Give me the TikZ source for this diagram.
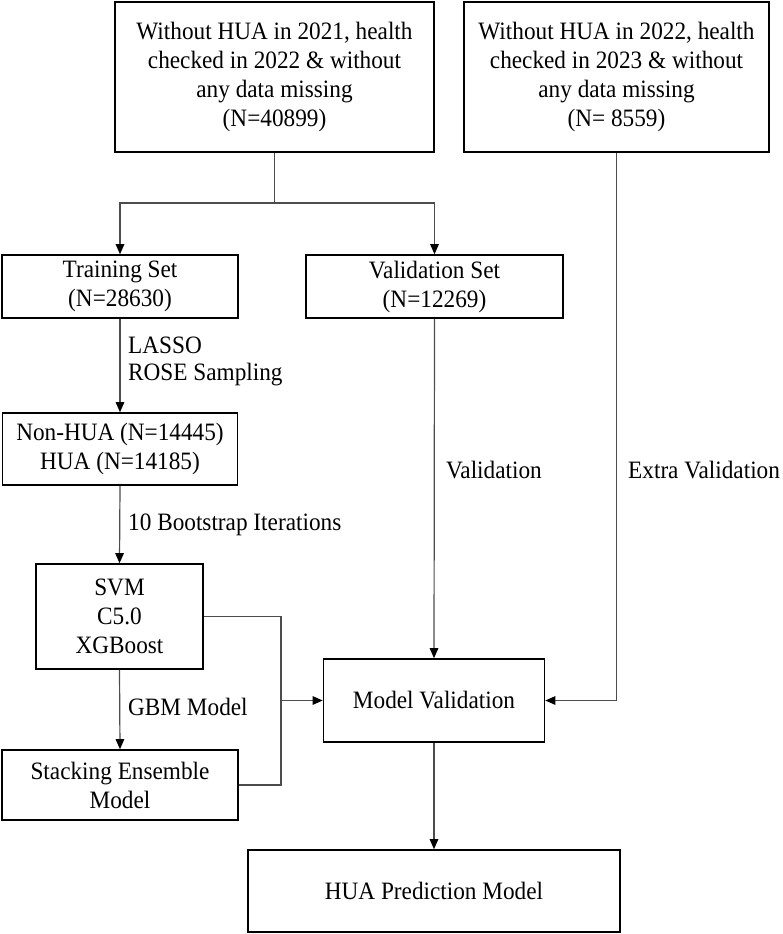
\documentclass[tikz,border=0pt]{standalone}
\usepackage{fontspec}
\setmainfont{Liberation Serif}[FakeStretch=0.93]
\usetikzlibrary{arrows.meta}
\begin{document}
\begin{tikzpicture}[x=1pt,y=-1pt,
  box/.style={draw=black,line width=1.6pt,inner sep=0pt,align=center,font=\fontsize{25}{29}\selectfont},
  conn/.style={draw=black!70,line width=1.2pt},
  arr/.style={conn,-{Triangle[length=10pt,width=8.5pt,color=black]}},
  lbl/.style={anchor=west,inner sep=0pt,align=left,font=\fontsize{25}{27.5}\selectfont}]
\useasboundingbox (0,0) rectangle (782,934);
\node[box,minimum width=319pt,minimum height=150pt] (b1) at (274.5,77) {\raisebox{-3pt}{\begin{tabular}{@{}c@{}}Without HUA in 2021, health\\checked in 2022 \& without\\any data missing\\(N=40899)\end{tabular}}};
\node[box,minimum width=305pt,minimum height=150pt] (b2) at (616.5,77) {\raisebox{-3pt}{\begin{tabular}{@{}c@{}}Without HUA in 2022, health\\checked in 2023 \& without\\any data missing\\(N= 8559)\end{tabular}}};
\node[box,minimum width=236pt,minimum height=63pt] (train) at (120,286.5) {Training Set\\(N=28630)};
\node[box,minimum width=257pt,minimum height=63pt] (val) at (434.5,286.5) {Validation Set\\(N=12269)};
\node[box,minimum width=235pt,minimum height=72pt] (nonhua) at (120,449) {Non-HUA (N=14445)\\HUA (N=14185)};
\node[box,minimum width=167pt,minimum height=105pt] (svm) at (119.5,616.5) {SVM\\C5.0\\XGBoost};
\node[box,minimum width=236pt,minimum height=70pt] (stack) at (120,785) {Stacking Ensemble\\Model};
\node[box,minimum width=221pt,minimum height=83pt] (mv) at (434,700.5) {Model Validation};
\node[box,minimum width=372pt,minimum height=82pt] (hua) at (434,891) {HUA Prediction Model};

\coordinate (j1) at (274.5,203);
\coordinate (m1) at (281,700.5);

\draw[conn] (b1.south) -- (j1);
\draw[arr] (j1) -| (train.north);
\draw[arr] (j1) -| (val.north);
\draw[arr] (train.south) -- (nonhua.north);
\draw[arr] (nonhua.south) -- (svm.north);
\draw[arr] (svm.south) -- (stack.north);
\draw[conn] (svm.east) -| (m1);
\draw[conn] (stack.east) -| (m1);
\draw[arr] (m1) -- (mv.west);
\draw[arr] (val.south) -- (mv.north);
\draw[arr] (b2.south) |- (mv.east);
\draw[arr] (mv.south) -- (hua.north);

\node[lbl] (l1) at (128,361.5) {LASSO\\ROSE Sampling};
\node[lbl] (l2) at (128,525) {10 Bootstrap Iterations};
\node[lbl] (l3) at (128,707) {GBM Model};
\node[lbl] (l4) at (446,470) {Validation};
\node[lbl] (l5) at (628,470) {Extra Validation};
\end{tikzpicture}
\end{document}
